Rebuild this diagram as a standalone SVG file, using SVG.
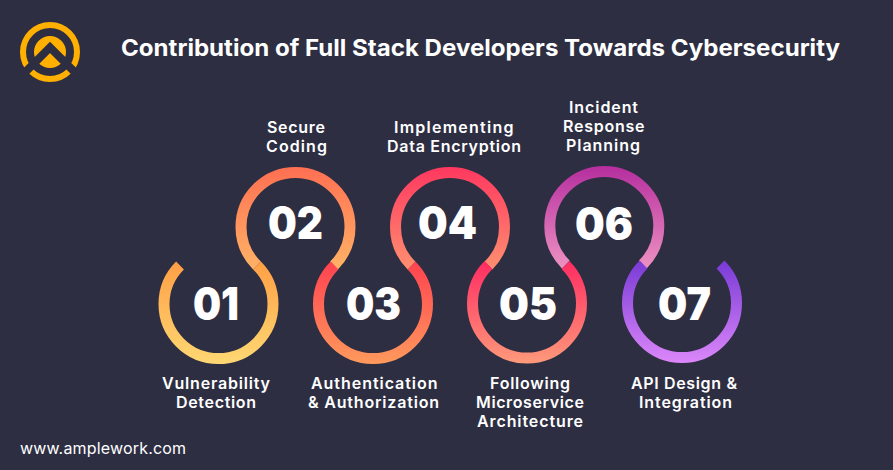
<svg xmlns="http://www.w3.org/2000/svg" width="893" height="470" viewBox="0 0 893 470">
<style>
text{font-family:"Inter","Noto Sans","Liberation Sans",sans-serif;fill:#fff}
.t{font-size:23px;font-weight:700}
.l{font-size:16px;font-weight:600}
.n{font-size:45px;font-weight:900}
.w{font-size:16px;font-weight:400}
.r{fill:none;stroke-width:11}
</style>
<defs>
<linearGradient id="g1" gradientUnits="userSpaceOnUse" x1="0" y1="262" x2="0" y2="364"><stop offset="0" stop-color="#ff9f45"/><stop offset="1" stop-color="#ffd873"/></linearGradient>
<linearGradient id="g2" gradientUnits="userSpaceOnUse" x1="0" y1="167" x2="0" y2="269"><stop offset="0" stop-color="#ff6f52"/><stop offset="1" stop-color="#ffb266"/></linearGradient>
<linearGradient id="g3" gradientUnits="userSpaceOnUse" x1="0" y1="262" x2="0" y2="364"><stop offset="0" stop-color="#ff4250"/><stop offset="1" stop-color="#ff9a5c"/></linearGradient>
<linearGradient id="g4" gradientUnits="userSpaceOnUse" x1="0" y1="167" x2="0" y2="269"><stop offset="0" stop-color="#ff385f"/><stop offset="1" stop-color="#ff8f70"/></linearGradient>
<linearGradient id="g5" gradientUnits="userSpaceOnUse" x1="0" y1="262" x2="0" y2="364"><stop offset="0" stop-color="#ff2d62"/><stop offset="1" stop-color="#ff9a7a"/></linearGradient>
<linearGradient id="g6" gradientUnits="userSpaceOnUse" x1="0" y1="166" x2="0" y2="268"><stop offset="0" stop-color="#b52e9e"/><stop offset="1" stop-color="#ee91c2"/></linearGradient>
<linearGradient id="g7" gradientUnits="userSpaceOnUse" x1="0" y1="262" x2="0" y2="364"><stop offset="0" stop-color="#7a3bd6"/><stop offset="1" stop-color="#dd88fa"/></linearGradient>
</defs>
<rect width="893" height="470" fill="#2e2e42"/>
<g id="logo">
<circle cx="50" cy="52" r="27" fill="none" stroke="#ffb000" stroke-width="6"/>
<circle cx="50" cy="52" r="16" fill="#ffb000"/>
<path d="M20 77.400 L50 47.400 L80 77.400" fill="none" stroke="#2e2e42" stroke-width="8"/>
</g>
<text id="title" class="t" x="121" y="56" textLength="719" lengthAdjust="spacingAndGlyphs">Contribution of Full Stack Developers Towards Cybersecurity</text>
<g id="connectors"></g>
<g id="node-01">
<path class="r" stroke="url(#g1)" d="M180 265.500A54.500 54.500 0 1 0 257 265.500"/>
<text class="n" x="193" y="320" textLength="46" lengthAdjust="spacingAndGlyphs">01</text>
<text class="l" x="162" y="389" textLength="108" lengthAdjust="spacing">Vulnerability</text>
<text class="l" x="176" y="408" textLength="80" lengthAdjust="spacing">Detection</text>
</g>
<g id="node-02">
<path class="r" stroke="url(#g2)" d="M257 265.500A54.500 54.500 0 1 1 334 265.500"/>
<text class="n" x="268" y="239" textLength="55" lengthAdjust="spacingAndGlyphs">02</text>
<text class="l" x="267" y="133" textLength="58" lengthAdjust="spacing">Secure</text>
<text class="l" x="266" y="152" textLength="61" lengthAdjust="spacing">Coding</text>
</g>
<g id="node-03">
<path class="r" stroke="url(#g3)" d="M334.500 265.500A54.500 54.500 0 1 0 411.500 265.500"/>
<text class="n" x="346" y="320" textLength="55" lengthAdjust="spacingAndGlyphs">03</text>
<text class="l" x="311" y="389" textLength="126.500" lengthAdjust="spacing">Authentication</text>
<text class="l" x="308" y="408" textLength="131" lengthAdjust="spacing">&amp; Authorization</text>
</g>
<g id="node-04">
<path class="r" stroke="url(#g4)" d="M411.500 265.500A54.500 54.500 0 1 1 488.500 265.500"/>
<text class="n" x="418" y="239" textLength="59" lengthAdjust="spacingAndGlyphs">04</text>
<text class="l" x="394" y="133" textLength="119.500" lengthAdjust="spacing">Implementing</text>
<text class="l" x="387" y="152" textLength="134" lengthAdjust="spacing">Data Encryption</text>
</g>
<g id="node-05">
<path class="r" stroke="url(#g5)" d="M488.500 265A54.500 54.500 0 1 0 565.500 265"/>
<text class="n" x="499" y="320" textLength="58" lengthAdjust="spacingAndGlyphs">05</text>
<text class="l" x="490" y="389" textLength="80" lengthAdjust="spacing">Following</text>
<text class="l" x="476" y="408" textLength="108" lengthAdjust="spacing">Microservice</text>
<text class="l" x="477" y="427" textLength="106" lengthAdjust="spacing">Architecture</text>
</g>
<g id="node-06">
<path class="r" stroke="url(#g6)" d="M565.800 264.500A54.500 54.500 0 1 1 642.800 264.500"/>
<text class="n" x="575" y="239.500" textLength="58" lengthAdjust="spacingAndGlyphs">06</text>
<text class="l" x="569" y="113" textLength="69" lengthAdjust="spacing">Incident</text>
<text class="l" x="563" y="132" textLength="81.500" lengthAdjust="spacing">Response</text>
<text class="l" x="566" y="151" textLength="74" lengthAdjust="spacing">Planning</text>
</g>
<g id="node-07">
<path class="r" stroke="url(#g7)" d="M643.500 264.500A54.500 54.500 0 1 0 720.500 264.500"/>
<text class="n" x="658" y="320" textLength="53" lengthAdjust="spacingAndGlyphs">07</text>
<text class="l" x="631" y="389" textLength="106" lengthAdjust="spacing">API Design &amp;</text>
<text class="l" x="639" y="408" textLength="93" lengthAdjust="spacing">Integration</text>
</g>
<text id="url" class="w" x="20" y="454" textLength="166" lengthAdjust="spacing">www.amplework.com</text>
</svg>
